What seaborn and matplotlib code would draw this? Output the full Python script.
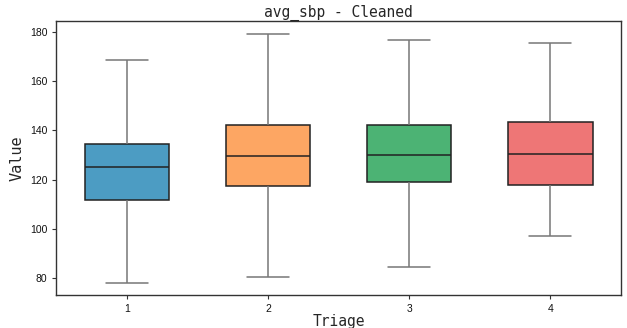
import numpy as np
import pandas as pd
import seaborn as sns
import matplotlib.pyplot as plt

# five-number summaries (min, q1, median, q3, max)
triage = ["1", "2", "3", "4"]
t1 = [78.2, 111.7, 125.1, 134.4, 168.7]
t2 = [80.6, 117.5, 129.8, 142.1, 179.2]
t3 = [84.4, 119.0, 130.2, 142.1, 176.8]
t4 = [97.2, 117.9, 130.5, 143.6, 175.4]
colors = ["#4c9cc3", "#fda663", "#4cb374", "#ee7676"]

rows = []
for lab, vals in zip(triage, [t1, t2, t3, t4]):
    for v in vals:
        rows.append({"Triage": lab, "Value": v})
df = pd.DataFrame(rows)

sns.set_style("ticks")
fig, ax = plt.subplots(figsize=(6.27, 3.28), dpi=100)
sns.boxplot(data=df, x="Triage", y="Value", hue="Triage", palette=colors,
            legend=False, width=0.6, whis=(0, 100), showfliers=False,
            saturation=1, linewidth=1.1, ax=ax,
            boxprops=dict(edgecolor="#222222"),
            medianprops=dict(color="#222222"),
            whiskerprops=dict(color="#777777"),
            capprops=dict(color="#777777"))

mono = ["DejaVu Sans Mono"]
ax.set_title("avg_sbp - Cleaned", family=mono, fontsize=10.5, pad=3)
ax.set_xlabel("Triage", family=mono, fontsize=10.5, labelpad=0)
ax.set_ylabel("Value", family=mono, fontsize=11)
ax.set_yticks([80, 100, 120, 140, 160, 180])
for lab in ax.get_xticklabels() + ax.get_yticklabels():
    lab.set_family("Liberation Sans")
    lab.set_fontsize(7.5)
    lab.set_color("#111111")
ax.tick_params(length=3, width=0.8, color="#333333")
for s in ax.spines.values():
    s.set_color("#333333")
    s.set_linewidth(1.0)

fig.subplots_adjust(left=0.09, right=0.99, top=0.935, bottom=0.1)
fig.savefig("out.png", dpi=100)
